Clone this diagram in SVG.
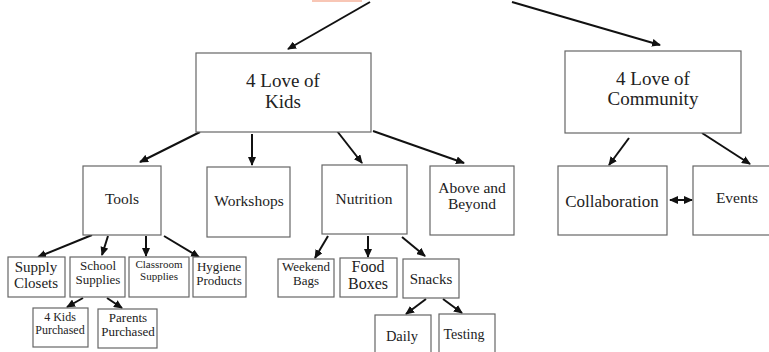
<svg xmlns="http://www.w3.org/2000/svg" width="769" height="352" viewBox="0 0 769 352">
<style>
.box{fill:#fff;stroke:#666;stroke-width:1.2}
text{font-family:"Liberation Serif","Times New Roman",serif;fill:#222;text-anchor:middle}
.c{stroke:#111;stroke-width:2;fill:none}
</style>
<defs>
<marker id="ah" markerUnits="userSpaceOnUse" markerWidth="9" markerHeight="8" refX="8" refY="4" orient="auto-start-reverse">
<path d="M0,0 L9,4 L0,8 z" fill="#111"/>
</marker>
</defs>
<rect x="312" y="-5" width="50" height="7" fill="#f8c6b5"/>
<g id="connectors">
<line class="c" x1="370" y1="2" x2="288" y2="49" marker-end="url(#ah)"/>
<line class="c" x1="512" y1="2" x2="660" y2="45" marker-end="url(#ah)"/>
<line class="c" x1="200" y1="132" x2="140" y2="162" marker-end="url(#ah)"/>
<line class="c" x1="252" y1="134" x2="252" y2="165" marker-end="url(#ah)"/>
<line class="c" x1="337" y1="131" x2="362" y2="163" marker-end="url(#ah)"/>
<line class="c" x1="373" y1="131" x2="464" y2="163" marker-end="url(#ah)"/>
<line class="c" x1="629" y1="138" x2="609" y2="165" marker-end="url(#ah)"/>
<line class="c" x1="702" y1="133" x2="750" y2="164" marker-end="url(#ah)"/>
<line class="c" x1="670" y1="200" x2="692" y2="200" marker-start="url(#ah)" marker-end="url(#ah)"/>
<line class="c" x1="92" y1="235" x2="38" y2="257" marker-end="url(#ah)"/>
<line class="c" x1="108" y1="236" x2="102" y2="255" marker-end="url(#ah)"/>
<line class="c" x1="146" y1="236" x2="146" y2="256" marker-end="url(#ah)"/>
<line class="c" x1="164" y1="236" x2="199" y2="257" marker-end="url(#ah)"/>
<line class="c" x1="83" y1="298" x2="67" y2="307" marker-end="url(#ah)"/>
<line class="c" x1="107" y1="298" x2="122" y2="308" marker-end="url(#ah)"/>
<line class="c" x1="328" y1="236" x2="315" y2="258" marker-end="url(#ah)"/>
<line class="c" x1="368" y1="236" x2="368" y2="257" marker-end="url(#ah)"/>
<line class="c" x1="402" y1="237" x2="425" y2="256" marker-end="url(#ah)"/>
<line class="c" x1="426" y1="299" x2="406" y2="314" marker-end="url(#ah)"/>
<line class="c" x1="443" y1="299" x2="462" y2="313" marker-end="url(#ah)"/>
</g>
<g id="kids"><rect class="box" x="196" y="53" width="175" height="79"/>
<text x="283" y="87" font-size="19">4 Love of</text><text x="283" y="108" font-size="19">Kids</text></g>
<g id="community"><rect class="box" x="565" y="51" width="176" height="82"/>
<text x="653" y="85" font-size="19">4 Love of</text><text x="653" y="105" font-size="19">Community</text></g>
<g id="tools"><rect class="box" x="83" y="166" width="78" height="69"/>
<text x="122" y="204" font-size="15.5">Tools</text></g>
<g id="workshops"><rect class="box" x="207" y="167" width="83" height="70"/>
<text x="249" y="206" font-size="15.5">Workshops</text></g>
<g id="nutrition"><rect class="box" x="322" y="165" width="85" height="69"/>
<text x="364" y="204" font-size="15.5">Nutrition</text></g>
<g id="above"><rect class="box" x="430" y="166" width="84" height="69"/>
<text x="472" y="193" font-size="15.5">Above and</text><text x="472" y="209" font-size="15.5">Beyond</text></g>
<g id="collaboration"><rect class="box" x="558" y="166" width="109" height="69"/>
<text x="612" y="207" font-size="17">Collaboration</text></g>
<g id="events"><rect class="box" x="693" y="166" width="80" height="69"/>
<text x="737" y="203" font-size="15.5">Events</text></g>
<g id="supply"><rect class="box" x="8" y="257" width="57" height="40"/>
<text x="36" y="272" font-size="15">Supply</text><text x="36" y="288" font-size="15">Closets</text></g>
<g id="school"><rect class="box" x="70" y="257" width="55" height="40"/>
<text x="98" y="270" font-size="13">School</text><text x="98" y="284" font-size="13">Supplies</text></g>
<g id="classroom"><rect class="box" x="129" y="257" width="60" height="40"/>
<text x="159" y="268" font-size="11">Classroom</text><text x="159" y="280" font-size="11">Supplies</text></g>
<g id="hygiene"><rect class="box" x="193" y="257" width="53" height="40"/>
<text x="219" y="271" font-size="13">Hygiene</text><text x="219" y="285" font-size="13">Products</text></g>
<g id="kidspurchased"><rect class="box" x="33" y="308" width="55" height="39"/>
<text x="60" y="321" font-size="12">4 Kids</text><text x="60" y="334" font-size="12">Purchased</text></g>
<g id="parentspurchased"><rect class="box" x="98" y="309" width="59" height="39"/>
<text x="128" y="322" font-size="13">Parents</text><text x="128" y="336" font-size="13">Purchased</text></g>
<g id="weekend"><rect class="box" x="278" y="259" width="56" height="38"/>
<text x="306" y="271" font-size="13">Weekend</text><text x="306" y="285" font-size="13">Bags</text></g>
<g id="food"><rect class="box" x="340" y="258" width="57" height="39"/>
<text x="368" y="272" font-size="16">Food</text><text x="368" y="289" font-size="16">Boxes</text></g>
<g id="snacks"><rect class="box" x="403" y="259" width="56" height="39"/>
<text x="431" y="284" font-size="15">Snacks</text></g>
<g id="daily"><rect class="box" x="375" y="315" width="56" height="45"/>
<text x="402" y="341" font-size="14.5">Daily</text></g>
<g id="testing"><rect class="box" x="439" y="314" width="56" height="45"/>
<text x="464" y="339" font-size="14">Testing</text></g>
</svg>
